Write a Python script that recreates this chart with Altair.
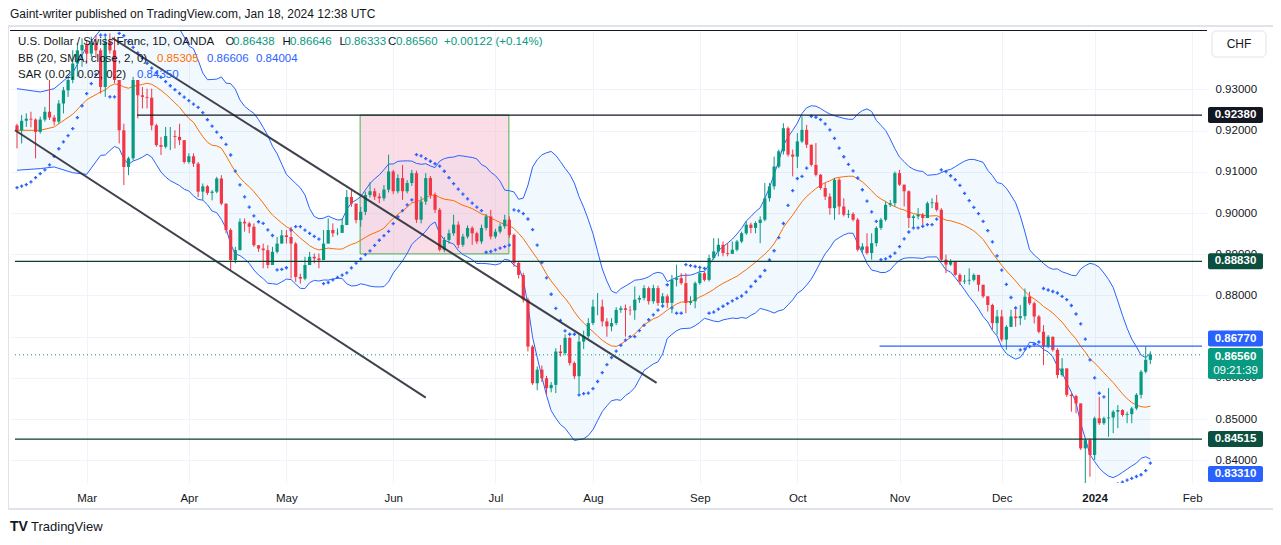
import altair as alt
import pandas as pd

# ---- data (USD/CHF daily, OANDA) ----
first_open = 0.9213

closes = [
    0.9201, 0.9224, 0.9229, 0.9227, 0.9197, 0.9227, 0.9246, 0.9232, 0.9222, 0.9266,
    0.9298, 0.9323, 0.9363, 0.9395, 0.9408, 0.9387, 0.9412, 0.9395, 0.9306, 0.9416,
    0.9395, 0.9323, 0.9201, 0.9112, 0.9133, 0.9323, 0.9286, 0.9282, 0.9280, 0.9213,
    0.9165, 0.9161, 0.9187, 0.9187, 0.9185, 0.9177, 0.9124, 0.9138, 0.9120, 0.9052,
    0.9065, 0.9049, 0.9052, 0.9084, 0.9023, 0.8959, 0.8886, 0.8910, 0.8979, 0.8975,
    0.8967, 0.8922, 0.8914, 0.8910, 0.8874, 0.8906, 0.8926, 0.8946, 0.8942, 0.8926,
    0.8845, 0.8841, 0.8874, 0.8894, 0.8890, 0.8886, 0.8926, 0.8959, 0.8951, 0.8952,
    0.8971, 0.9039, 0.9023, 0.8983, 0.9003,
    0.9044, 0.9053, 0.9040, 0.9036, 0.9057, 0.9101, 0.9053, 0.9085, 0.9053, 0.9073,
    0.9097, 0.8984, 0.9028, 0.9085, 0.9044, 0.9008, 0.8911, 0.8935, 0.8951, 0.8972,
    0.8923, 0.8943, 0.8964, 0.8951, 0.8931, 0.8964, 0.8992, 0.8943, 0.8955, 0.8968,
    0.8984, 0.8947, 0.8879, 0.8850, 0.8790, 0.8676, 0.8587, 0.8620, 0.8599, 0.8575,
    0.8583, 0.8664, 0.8660, 0.8697, 0.8636, 0.8604, 0.8688, 0.8701, 0.8733, 0.8773,
    0.8773, 0.8737, 0.8725, 0.8733, 0.8765, 0.8769, 0.8765, 0.8764, 0.8790, 0.8794,
    0.8818, 0.8786, 0.8818, 0.8782, 0.8798, 0.8782,
    0.8838, 0.8842, 0.8830, 0.8782, 0.8786, 0.8830, 0.8854, 0.8838, 0.8891, 0.8907,
    0.8923, 0.8903, 0.8901, 0.8911, 0.8931, 0.8951, 0.8972, 0.8964, 0.8976, 0.8984,
    0.9036, 0.9065, 0.9113, 0.9150, 0.9206, 0.9142, 0.9137, 0.9174, 0.9202, 0.9166,
    0.9117, 0.9093, 0.9061, 0.9040, 0.9012, 0.9081, 0.9016, 0.8996, 0.8998, 0.8984,
    0.8911, 0.8919, 0.8903, 0.8927, 0.8964, 0.8984, 0.9020, 0.9024, 0.9097, 0.9069,
    0.9053, 0.8988, 0.8992, 0.8996, 0.8988, 0.9024, 0.9026, 0.9008, 0.8887, 0.8875,
    0.8883, 0.8850, 0.8834, 0.8836, 0.8838, 0.8850, 0.8826, 0.8798, 0.8777, 0.8733,
    0.8749, 0.8693,
    0.8724, 0.8749, 0.8745, 0.8750, 0.8797, 0.8781, 0.8749, 0.8712, 0.8676, 0.8700,
    0.8668, 0.8607, 0.8623, 0.8559, 0.8556, 0.8538, 0.8429, 0.8449, 0.8413, 0.8502,
    0.8490, 0.8502, 0.8504, 0.8518, 0.8522, 0.8510, 0.8512, 0.8526, 0.8559, 0.8615,
    0.8644, 0.8656,
]

highs = [
    0.9217, 0.9238, 0.9242, 0.9246, 0.9230, 0.9234, 0.9258, 0.9323, 0.9238, 0.9274,
    0.9306, 0.9331, 0.9395, 0.9412, 0.9424, 0.9420, 0.9428, 0.9432, 0.9400, 0.9428,
    0.9436, 0.9428, 0.9323, 0.9217, 0.9137, 0.9331, 0.9323, 0.9306, 0.9302, 0.9302,
    0.9217, 0.9185, 0.9209, 0.9209, 0.9201, 0.9217, 0.9177, 0.9145, 0.9145, 0.9124,
    0.9072, 0.9068, 0.9056, 0.9088, 0.9092, 0.9023, 0.8963, 0.8918, 0.8987, 0.8987,
    0.8979, 0.8975, 0.8922, 0.8926, 0.8922, 0.8918, 0.8942, 0.8959, 0.8959, 0.8967,
    0.8930, 0.8853, 0.8894, 0.8906, 0.8902, 0.8902, 0.8959, 0.8987, 0.8975, 0.8963,
    0.8987, 0.9056, 0.9056, 0.9023, 0.9015,
    0.9052, 0.9075, 0.9060, 0.9048, 0.9068, 0.9142, 0.9105, 0.9094, 0.9117, 0.9080,
    0.9105, 0.9103, 0.9040, 0.9097, 0.9090, 0.9050, 0.9012, 0.8942, 0.8960, 0.8996,
    0.8980, 0.8950, 0.8970, 0.8968, 0.8955, 0.8972, 0.8998, 0.9008, 0.8962, 0.8975,
    0.8996, 0.8992, 0.8950, 0.8884, 0.8855, 0.8795, 0.8680, 0.8628, 0.8630, 0.8605,
    0.8590, 0.8672, 0.8680, 0.8706, 0.8700, 0.8640, 0.8705, 0.8715, 0.8745, 0.8790,
    0.8806, 0.8790, 0.8745, 0.8745, 0.8772, 0.8775, 0.8778, 0.8775, 0.8822, 0.8800,
    0.8825, 0.8822, 0.8826, 0.8824, 0.8806, 0.8803,
    0.8850, 0.8875, 0.8854, 0.8854, 0.8798, 0.8834, 0.8866, 0.8858, 0.8899, 0.8939,
    0.8939, 0.8931, 0.8927, 0.8931, 0.8935, 0.8955, 0.8980, 0.8977, 0.8980, 0.8992,
    0.9073, 0.9073, 0.9137, 0.9154, 0.9218, 0.9210, 0.9154, 0.9194, 0.9235, 0.9214,
    0.9166, 0.9170, 0.9095, 0.9073, 0.9048, 0.9085, 0.9085, 0.9036, 0.9008, 0.9002,
    0.8988, 0.8927, 0.8951, 0.8951, 0.8968, 0.8988, 0.9028, 0.9032, 0.9101, 0.9105,
    0.9069, 0.9055, 0.8996, 0.9012, 0.9000, 0.9028, 0.9036, 0.9044, 0.9012, 0.8899,
    0.8888, 0.8884, 0.8854, 0.8850, 0.8866, 0.8854, 0.8850, 0.8826, 0.8798, 0.8780,
    0.8765, 0.8765,
    0.8728, 0.8765, 0.8765, 0.8777, 0.8817, 0.8809, 0.8785, 0.8753, 0.8728, 0.8704,
    0.8700, 0.8672, 0.8648, 0.8623, 0.8564, 0.8559, 0.8538, 0.8453, 0.8453, 0.8506,
    0.8554, 0.8506, 0.8575, 0.8522, 0.8534, 0.8524, 0.8518, 0.8530, 0.8563, 0.8619,
    0.8677, 0.86646,
]

lows = [
    0.9157, 0.9169, 0.9209, 0.9208, 0.9133, 0.9193, 0.9222, 0.9226, 0.9213, 0.9217,
    0.9242, 0.9282, 0.9315, 0.9331, 0.9355, 0.9363, 0.9379, 0.9379, 0.9290, 0.9282,
    0.9387, 0.9315, 0.9169, 0.9068, 0.9092, 0.9128, 0.9230, 0.9254, 0.9254, 0.9201,
    0.9161, 0.9141, 0.9157, 0.9153, 0.9157, 0.9165, 0.9120, 0.9120, 0.9112, 0.9039,
    0.9031, 0.9044, 0.9031, 0.9048, 0.9019, 0.8951, 0.8862, 0.8878, 0.8930, 0.8955,
    0.8951, 0.8918, 0.8906, 0.8866, 0.8866, 0.8902, 0.8902, 0.8926, 0.8926, 0.8841,
    0.8833, 0.8829, 0.8837, 0.8878, 0.8878, 0.8866, 0.8886, 0.8951, 0.8942, 0.8946,
    0.8955, 0.8975, 0.9015, 0.8975, 0.8967,
    0.8995, 0.9038, 0.9032, 0.9024, 0.9030, 0.9050, 0.9046, 0.9048, 0.9032, 0.9048,
    0.9066, 0.8976, 0.8975, 0.9020, 0.9035, 0.9000, 0.8907, 0.8905, 0.8926, 0.8945,
    0.8915, 0.8918, 0.8938, 0.8923, 0.8925, 0.8925, 0.8958, 0.8936, 0.8938, 0.8950,
    0.8962, 0.8940, 0.8870, 0.8841, 0.8783, 0.8664, 0.8583, 0.8570, 0.8590, 0.8559,
    0.8565, 0.8563, 0.8652, 0.8655, 0.8630, 0.8597, 0.8563, 0.8670, 0.8695, 0.8728,
    0.8752, 0.8725, 0.8700, 0.8713, 0.8728, 0.8758, 0.8700, 0.8752, 0.8741, 0.8782,
    0.8788, 0.8778, 0.8780, 0.8775, 0.8776, 0.8770,
    0.8757, 0.8822, 0.8826, 0.8757, 0.8777, 0.8769, 0.8826, 0.8834, 0.8834, 0.8887,
    0.8895, 0.8895, 0.8895, 0.8901, 0.8907, 0.8927, 0.8947, 0.8951, 0.8951, 0.8927,
    0.8980, 0.9028, 0.9057, 0.9109, 0.9142, 0.9137, 0.9089, 0.9109, 0.9170, 0.9158,
    0.9113, 0.9089, 0.9057, 0.9032, 0.8996, 0.8984, 0.8996, 0.8992, 0.8988, 0.8980,
    0.8907, 0.8904, 0.8899, 0.8887, 0.8919, 0.8959, 0.8980, 0.9015, 0.9016, 0.9066,
    0.9016, 0.8964, 0.8968, 0.8985, 0.8972, 0.8988, 0.9012, 0.9004, 0.8883, 0.8854,
    0.8872, 0.8848, 0.8826, 0.8828, 0.8826, 0.8834, 0.8810, 0.8794, 0.8761, 0.8717,
    0.8705, 0.8688,
    0.8668, 0.8723, 0.8724, 0.8728, 0.8741, 0.8777, 0.8732, 0.8708, 0.8631, 0.8672,
    0.8664, 0.8599, 0.8603, 0.8554, 0.8518, 0.8514, 0.8425, 0.8333, 0.8360, 0.8401,
    0.8486, 0.8486, 0.8457, 0.8466, 0.8478, 0.8506, 0.8490, 0.8490, 0.8522, 0.8550,
    0.8611, 0.86333,
]

# Bollinger values read at the left edge (before 20 bars of history are on screen)
bb_head_idx = [0, 5, 8, 12, 15, 18]
bb_head_up = [0.9302, 0.9294, 0.9302, 0.9340, 0.9404, 0.9445]
bb_head_mid = [0.9201, 0.9201, 0.9209, 0.9240, 0.9275, 0.9294]
bb_head_lo = [0.9104, 0.9108, 0.9112, 0.9098, 0.9094, 0.9140]

month_idx = [15, 37, 58, 81, 103, 124, 147, 168, 190, 212, 232, 253]
month_txt = ["Mar", "Apr", "May", "Jun", "Jul", "Aug", "Sep", "Oct", "Nov", "Dec", "2024", "Feb"]
price_ticks = [0.84, 0.85, 0.86, 0.87, 0.88, 0.89, 0.90, 0.91, 0.92, 0.93]

UP, DOWN = "#089981", "#f23645"
BLUE, ORANGE, DARK = "#2962ff", "#ff6d00", "#131722"
FONT = "Liberation Sans"
W, H = 1197, 453
X_DOM = [-0.43, 255.12]
Y_DOM = [0.83449, 0.94444]

# ---- frame ----
df = pd.DataFrame({"close": closes, "high": highs, "low": lows})
df["idx"] = range(len(df))
df["open"] = df["close"].shift(1).fillna(first_open)
df.loc[len(df) - 1, "open"] = 0.86438
df["high"] = df[["high", "open", "close"]].max(axis=1)
df["low"] = df[["low", "open", "close"]].min(axis=1)
df["dir"] = (df["close"] >= df["open"]).map({True: "up", False: "down"})

# Bollinger bands (20, 2)
roll = df["close"].rolling(20)
mid = roll.mean()
sd = roll.std(ddof=0)
bb_tail = pd.DataFrame({"idx": df["idx"], "up": mid + 2 * sd, "mid": mid, "lo": mid - 2 * sd}).dropna()
bb_head = pd.DataFrame({"idx": bb_head_idx, "up": bb_head_up, "mid": bb_head_mid, "lo": bb_head_lo})
bb = pd.concat([bb_head, bb_tail], ignore_index=True)


# Parabolic SAR (0.02, 0.02, 0.2)
def parabolic_sar(hi, lo, sar0, ep0, step=0.02, af_max=0.2):
    out = [sar0]
    up, ep, af, sar = True, ep0, step, sar0
    for i in range(1, len(hi)):
        sar = sar + af * (ep - sar)
        if up:
            sar = min(sar, lo[i - 1], lo[max(i - 2, 0)])
            if lo[i] < sar:
                up, sar, ep, af = False, ep, lo[i], step
            elif hi[i] > ep:
                ep, af = hi[i], min(af + step, af_max)
        else:
            sar = max(sar, hi[i - 1], hi[max(i - 2, 0)])
            if hi[i] > sar:
                up, sar, ep, af = True, ep, hi[i], step
            elif lo[i] < ep:
                ep, af = lo[i], min(af + step, af_max)
        out.append(sar)
    return out


df["sar"] = parabolic_sar(list(df["high"]), list(df["low"]), 0.9062, 0.9240)

# ---- shared encodings ----
label_expr = " : ".join(f"datum.value == {i} ? '{t}'" for i, t in zip(month_idx, month_txt)) + " : ''"
x_axis = alt.Axis(
    values=month_idx, labelExpr=label_expr, title=None, grid=True, gridColor="#f0f3fa",
    domain=False, ticks=False, labelPadding=9, labelFontSize=11.5, labelColor=DARK,
    labelFont=FONT, labelFlush=False, labelOverlap=False,
    labelFontWeight=alt.condition("datum.value == 232", alt.value("bold"), alt.value("normal")),
)
y_axis = alt.Axis(
    values=price_ticks, format=".5f", title=None, orient="right", grid=True,
    gridColor="#f0f3fa", domain=False, ticks=False, labelPadding=8,
    labelFontSize=11.5, labelColor=DARK, labelFont=FONT,
)


def xe(field):
    return alt.X(f"{field}:Q", scale=alt.Scale(domain=X_DOM, nice=False, zero=False), axis=x_axis)


def ye(field):
    return alt.Y(f"{field}:Q", scale=alt.Scale(domain=Y_DOM, nice=False, zero=False), axis=y_axis)


candle_color = alt.Color("dir:N", scale=alt.Scale(domain=["up", "down"], range=[UP, DOWN]), legend=None)

# ---- layers ----
bb_area = alt.Chart(bb).mark_area(color="#2196f3", opacity=0.06, clip=True).encode(
    x=xe("idx"), y=ye("lo"), y2="up:Q")
bb_up = alt.Chart(bb).mark_line(color=BLUE, strokeWidth=1, clip=True).encode(x=xe("idx"), y=ye("up"))
bb_lo = alt.Chart(bb).mark_line(color=BLUE, strokeWidth=1, clip=True).encode(x=xe("idx"), y=ye("lo"))
bb_mid = alt.Chart(bb).mark_line(color=ORANGE, strokeWidth=1, clip=True).encode(x=xe("idx"), y=ye("mid"))

box = alt.Chart(pd.DataFrame({"x0": [73.87], "x1": [105.9], "p0": [0.8901], "p1": [0.9238]})).mark_rect(
    fill="#f8bbd0", fillOpacity=0.5, stroke="#4caf50", strokeWidth=1).encode(
    x=xe("x0"), x2="x1:Q", y=ye("p0"), y2="p1:Q")

sar = alt.Chart(df).mark_point(shape="cross", filled=True, size=11, color=BLUE, opacity=1, clip=True).encode(
    x=xe("idx"), y=ye("sar"))

wicks = alt.Chart(df).mark_rule(strokeWidth=1, clip=True).encode(
    x=xe("idx"), y=ye("low"), y2="high:Q", color=candle_color)
bodies = alt.Chart(df).mark_bar(size=3.2, clip=True).encode(
    x=xe("idx"), y=ye("open"), y2="close:Q", color=candle_color)

channel = alt.Chart(pd.DataFrame({
    "line": ["upper", "upper", "lower", "lower"],
    "idx": [20.5, 137.7, -0.43, 88.0],
    "price": [0.9425, 0.8588, 0.9201, 0.8552],
})).mark_line(color="#2a2e39", strokeWidth=2, opacity=0.9).encode(
    x=xe("idx"), y=ye("price"), detail="line:N")

levels = pd.DataFrame({
    "price": [0.9238, 0.8883, 0.84515, 0.8677],
    "x0": [25.83, X_DOM[0], X_DOM[0], 185.7],
    "col": [DARK, "#0b3d31", "#0b3d31", BLUE],
})
level_rules = alt.Chart(levels).mark_rule(strokeWidth=1.2).encode(
    x=xe("x0"), x2=alt.datum(X_DOM[1]), y=ye("price"), color=alt.Color("col:N", scale=None))
last_rule = alt.Chart(pd.DataFrame({"price": [0.8656]})).mark_rule(
    color=UP, strokeWidth=1, strokeDash=[1, 3]).encode(
    x=alt.datum(X_DOM[0]), x2=alt.datum(X_DOM[1]), y=ye("price"))

# price tags on the right scale
tags = pd.DataFrame({
    "lo": [0.92186, 0.88636, 0.84321, 0.86762, 0.85973, 0.83473],
    "hi": [0.92574, 0.89024, 0.84709, 0.87150, 0.86726, 0.83861],
    "col": [DARK, "#0b4f3f", "#0b4f3f", BLUE, UP, BLUE],
})
tag_boxes = alt.Chart(tags).mark_rect(cornerRadius=2).encode(
    x=alt.value(1198), x2=alt.value(1253), y=ye("lo"), y2="hi:Q", color=alt.Color("col:N", scale=None))
tag_bold = pd.DataFrame({
    "price": [0.9238, 0.8883, 0.84515, 0.86956, 0.86519, 0.83667],
    "txt": ["0.92380", "0.88830", "0.84515", "0.86770", "0.86560", "0.83310"],
})
tag_text = alt.Chart(tag_bold).mark_text(
    align="center", baseline="middle", fontSize=11.5, font=FONT, color="white", fontWeight="bold").encode(
    x=alt.value(1225.5), y=ye("price"), text="txt:N")
tag_timer = alt.Chart(pd.DataFrame({"price": [0.86167], "txt": ["09:21:39"]})).mark_text(
    align="center", baseline="middle", fontSize=11.5, font=FONT, color="white").encode(
    x=alt.value(1225.5), y=ye("price"), text="txt:N")

one = pd.DataFrame({"k": [0]})


def label(txt, px, py, color=DARK, size=11.5, weight="normal", align="left"):
    return alt.Chart(one).mark_text(
        text=txt, align=align, baseline="middle", fontSize=size, fontWeight=weight,
        color=color, font=FONT).encode(x=alt.value(px), y=alt.value(py))


texts = [
    label("Gaint-writer published on TradingView.com, Jan 18, 2024 12:38 UTC", 0, -16, size=12),
    label("U.S. Dollar / Swiss Franc, 1D, OANDA", 8, 11.5),
    label("O", 215.5, 11.5), label("0.86438", 223, 11.5, UP),
    label("H", 272.5, 11.5), label("0.86646", 280, 11.5, UP),
    label("L", 329.5, 11.5), label("0.86333", 334.5, 11.5, UP),
    label("C", 378, 11.5), label("0.86560", 386, 11.5, UP),
    label("+0.00122 (+0.14%)", 434, 11.5, UP),
    label("BB (20, SMA, close, 2, 0)", 8, 28.5),
    label("0.85305", 147, 28.5, ORANGE), label("0.86606", 197, 28.5, BLUE),
    label("0.84004", 246, 28.5, BLUE),
    label("SAR (0.02, 0.02, 0.2)", 8, 45),
    label("0.84350", 127, 45, BLUE),
    label("CHF", 1229, 14, size=12, align="center"),
    label("TV", 0, 497, size=14, weight="bold"),
    label("TradingView", 21, 497, size=13),
]

frame = alt.Chart(one).mark_rect(fill="transparent", stroke="#e0e3eb", strokeWidth=2).encode(
    x=alt.value(-2), x2=alt.value(1264), y=alt.value(-4), y2=alt.value(479))
chf_box = alt.Chart(one).mark_rect(fill="white", stroke="#e0e3eb", strokeWidth=1, cornerRadius=4).encode(
    x=alt.value(1202), x2=alt.value(1256), y=alt.value(1), y2=alt.value(27))
top_line = alt.Chart(one).mark_rule(color=DARK, strokeWidth=1).encode(
    x=alt.value(0), x2=alt.value(W), y=alt.value(0.5))

chart = alt.layer(
    frame, bb_area, box, bb_up, bb_lo, bb_mid, sar, wicks, bodies, channel,
    level_rules, last_rule, top_line, tag_boxes, tag_text, tag_timer, chf_box, *texts,
).properties(
    width=W, height=H, autosize="none",
    padding={"left": 2, "top": 22, "right": 66, "bottom": 54},
    background="white",
).configure_view(stroke=None)

chart.save("out.html", embed_options={"renderer": "svg", "actions": False})
